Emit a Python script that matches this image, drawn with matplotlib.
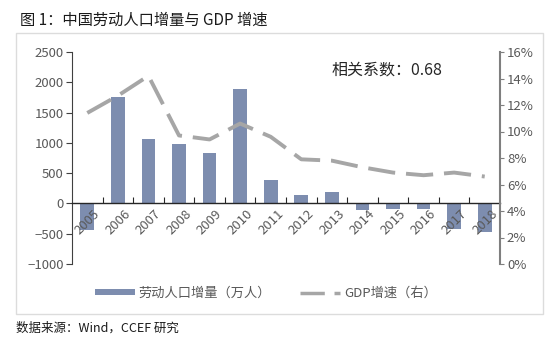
import matplotlib
matplotlib.use("Agg")
import matplotlib.pyplot as plt
import matplotlib.transforms as mtransforms
from matplotlib.patches import Rectangle
from matplotlib.lines import Line2D
from matplotlib.patches import Patch

plt.rcParams['font.family'] = ['Noto Sans CJK SC', 'DejaVu Sans']

years = ['2005', '2006', '2007', '2008', '2009', '2010', '2011', '2012',
         '2013', '2014', '2015', '2016', '2017', '2018']
labor_increase = [-440, 1750, 1060, 980, 830, 1890, 380, 140,
                  185, -110, -95, -95, -420, -465]
gdp_growth = [11.4, 12.7, 14.2, 9.7, 9.4, 10.6, 9.6, 7.9,
              7.8, 7.3, 6.9, 6.7, 6.9, 6.6]

W, H = 550, 348
fig = plt.figure(figsize=(W / 100, H / 100), dpi=100)
fig.patch.set_facecolor('white')

# chart frame
fig.patches.append(Rectangle((16 / W, 1 - 314 / H), (543 - 16) / W, (314 - 33) / H,
                             transform=fig.transFigure, fill=False,
                             edgecolor='#dcdcdc', linewidth=1.0))

ax = fig.add_axes([72 / W, 1 - 264 / H, (500 - 72) / W, (264 - 52) / H])
ax2 = ax.twinx()

bar_color = '#7d8daf'
line_color = '#a6a6a6'
text_color = '#595959'

x = list(range(len(years)))
ax.bar(x, labor_increase, width=0.45, color=bar_color, zorder=2)
ax2.plot(x, gdp_growth, color=line_color, linewidth=2.8,
         dashes=(7, 2.8), zorder=3)

ax.set_xlim(-0.5, len(years) - 0.5)
ax.set_ylim(-1000, 2500)
ax.set_yticks(range(-1000, 2501, 500))
ax2.set_ylim(0, 16)
ax2.set_yticks(range(0, 17, 2))
ax2.set_yticklabels([f'{v}%' for v in range(0, 17, 2)])

for a in (ax, ax2):
    a.set_facecolor('none')
    a.spines['top'].set_visible(False)

ax.spines['bottom'].set_position(('data', 0))
ax.spines['bottom'].set_color('#262626')
ax.spines['bottom'].set_linewidth(1.0)
ax.spines['left'].set_color('#404040')
ax.spines['right'].set_visible(False)
ax2.spines['left'].set_visible(False)
ax2.spines['bottom'].set_visible(False)
ax2.spines['right'].set_color('#7f7f7f')
ax2.spines['right'].set_linewidth(1.5)

ax.tick_params(axis='y', direction='out', length=4, color='#404040',
               labelsize=9.5, labelcolor=text_color, pad=2)
ax2.tick_params(axis='y', direction='out', length=3, color='#7f7f7f',
                labelsize=9.5, labelcolor=text_color, pad=2)

# x ticks at category boundaries, pointing up
ax.set_xticks([i + 0.5 for i in range(len(years) - 1)])
ax.set_xticklabels([])
ax.tick_params(axis='x', direction='in', length=4, color='#262626')

offset = mtransforms.ScaledTranslation(6 / 100, -4 / 100, fig.dpi_scale_trans)
for i, yr in enumerate(years):
    ax.text(i, 0, yr, transform=ax.transData + offset, rotation=45,
            ha='right', va='top', rotation_mode='anchor',
            fontsize=9.5, color=text_color, zorder=4)

fig.text(332 / W, 1 - 70 / H, '相关系数：0.68', fontsize=11.5,
         color='#262626', va='center', ha='left')

handles = [Patch(facecolor=bar_color, edgecolor='none'),
           Line2D([0], [0], color=line_color, linewidth=2.5, dashes=(7, 2.8))]
fig.legend(handles, ['劳动人口增量（万人）', 'GDP增速（右）'],
           loc='center', bbox_to_anchor=(266 / W, 1 - 293 / H),
           ncol=2, frameon=False, fontsize=9.5, labelcolor=text_color,
           handlelength=3.0, handleheight=0.3, columnspacing=2.2,
           handletextpad=0.3)

fig.text(20 / W, 1 - 20 / H, '图 1：中国劳动人口增量与 GDP 增速',
         fontsize=11, color='#1a1a1a', va='center', ha='left')
fig.text(16 / W, 1 - 328 / H, '数据来源：Wind，CCEF 研究',
         fontsize=9, color='#1a1a1a', va='center', ha='left')

fig.savefig('out.png', dpi=100)
